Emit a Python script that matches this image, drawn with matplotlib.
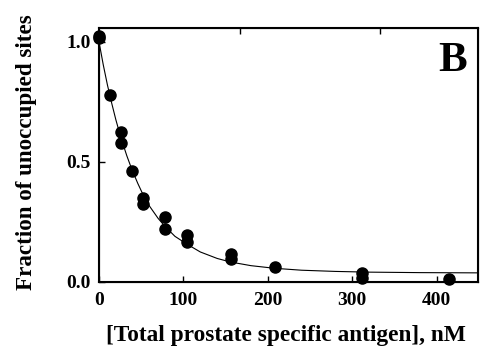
import matplotlib
matplotlib.use("Agg")
import matplotlib.pyplot as plt

# measured points: total PSA (nM) vs fraction of unoccupied sites
psa_nM = [0, 0, 13, 26, 26, 39, 52, 52, 78, 78, 104, 104, 156, 156, 208, 311, 311, 415]
fraction = [1.025, 1.015, 0.78, 0.625, 0.58, 0.46, 0.35, 0.325, 0.27, 0.22,
            0.195, 0.165, 0.115, 0.095, 0.064, 0.036, 0.018, 0.011]

# fitted curve
fit_x = [0, 5, 10, 15, 20, 26, 33, 39, 46, 52, 60, 70, 78, 90, 104, 120, 140,
         156, 180, 208, 240, 280, 320, 380, 450]
fit_y = [1.0, 0.905, 0.82, 0.745, 0.675, 0.60, 0.525, 0.468, 0.41, 0.365, 0.315,
         0.265, 0.232, 0.19, 0.158, 0.125, 0.098, 0.083, 0.068, 0.057, 0.049,
         0.044, 0.041, 0.039, 0.038]

x_ticks = [0, 100, 200, 300, 400]
y_ticks = [0.0, 0.5, 1.0]
top_ticks = [166.7, 333.3]

plt.rcParams['font.family'] = 'Liberation Serif'
plt.rcParams['font.weight'] = 'bold'

fig = plt.figure(figsize=(4.81, 3.49), dpi=100)
ax = fig.add_axes([0.2058, 0.192, 0.7880, 0.727])

ax.plot(fit_x, fit_y, color='black', lw=0.8, zorder=2)
ax.plot(psa_nM, fraction, 'o', color='black', ms=8, zorder=3, clip_on=False)

ax.set_xlim(0, 449)
ax.set_ylim(0, 1.056)
ax.set_xticks(x_ticks)
ax.set_yticks(y_ticks)
ax.set_xticklabels([str(v) for v in x_ticks])
ax.set_yticklabels(['%.1f' % v for v in y_ticks])
ax.tick_params(direction='in', length=4, width=1, labelsize=14, pad=6)
ax.tick_params(axis='x', pad=7)
for s in ax.spines.values():
    s.set_linewidth(1.5)

top = ax.twiny()
top.set_xlim(ax.get_xlim())
top.set_xticks(top_ticks)
top.tick_params(direction='in', length=4, width=1, labeltop=False)

ax.text(0.971, 0.945, 'B', transform=ax.transAxes, ha='right', va='top',
        fontsize=31, fontweight='bold')

fig.text(0.595, 0.04, '[Total prostate specific antigen], nM', ha='center',
         va='center', fontsize=16.8, fontweight='bold')
fig.text(0.056, 0.563, 'Fraction of unoccupied sites', ha='center', va='center',
         rotation=90, fontsize=16.6, fontweight='bold')

fig.savefig('out.png', dpi=100)
